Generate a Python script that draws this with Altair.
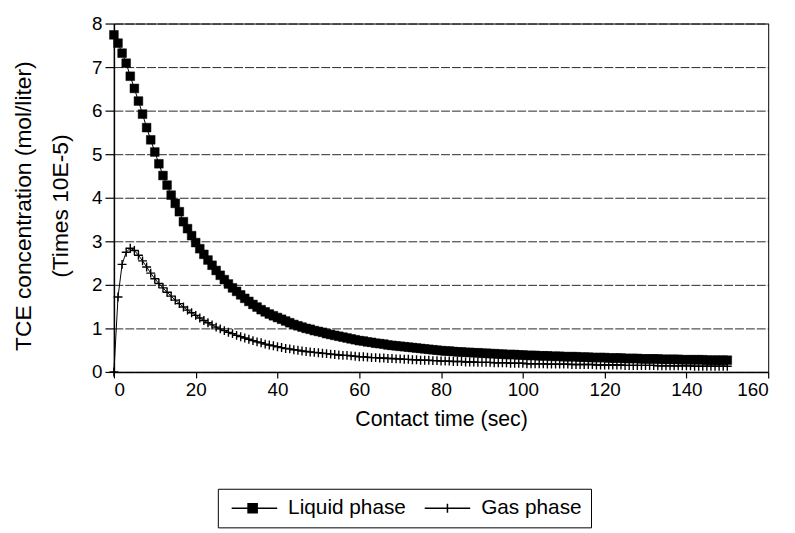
import altair as alt
import pandas as pd

FONT = "Liberation Sans"

# Contact time (sec), one reading per second
time_s = list(range(0, 151))

liquid_phase = [
    7.74, 7.55, 7.32, 7.09, 6.79, 6.51, 6.22, 5.92, 5.61, 5.33,
    5.05, 4.78, 4.51, 4.29, 4.06, 3.87, 3.68, 3.45, 3.29, 3.13,
    2.97, 2.83, 2.70, 2.57, 2.45, 2.33, 2.22, 2.12, 2.02, 1.93,
    1.85, 1.77, 1.69, 1.62, 1.55, 1.49, 1.43, 1.38, 1.33, 1.29,
    1.25, 1.21, 1.17, 1.13, 1.09, 1.06, 1.03, 1.00, 0.98, 0.95,
    0.93, 0.91, 0.88, 0.86, 0.84, 0.82, 0.80, 0.78, 0.76, 0.74,
    0.72, 0.71, 0.69, 0.68, 0.66, 0.65, 0.64, 0.62, 0.61, 0.60,
    0.59, 0.58, 0.57, 0.56, 0.55, 0.54, 0.53, 0.52, 0.51, 0.50,
    0.49, 0.48, 0.48, 0.47, 0.46, 0.46, 0.45, 0.45, 0.44, 0.44,
    0.43, 0.43, 0.42, 0.42, 0.41, 0.41, 0.40, 0.40, 0.40, 0.39,
    0.39, 0.38, 0.38, 0.38, 0.37, 0.37, 0.37, 0.36, 0.36, 0.36,
    0.35, 0.35, 0.35, 0.35, 0.34, 0.34, 0.34, 0.33, 0.33, 0.33,
    0.33, 0.32, 0.32, 0.32, 0.32, 0.31, 0.31, 0.31, 0.31, 0.30,
    0.30, 0.30, 0.30, 0.30, 0.29, 0.29, 0.29, 0.29, 0.29, 0.28,
    0.28, 0.28, 0.28, 0.28, 0.28, 0.27, 0.27, 0.27, 0.27, 0.27, 0.27,
]

gas_phase = [
    0.00, 1.72, 2.47, 2.75, 2.84, 2.79, 2.68, 2.55, 2.41, 2.27,
    2.14, 2.03, 1.93, 1.83, 1.74, 1.65, 1.57, 1.49, 1.42, 1.36,
    1.30, 1.24, 1.18, 1.13, 1.08, 1.03, 0.99, 0.95, 0.91, 0.88,
    0.84, 0.81, 0.78, 0.75, 0.72, 0.69, 0.67, 0.64, 0.62, 0.60,
    0.58, 0.56, 0.54, 0.53, 0.51, 0.50, 0.48, 0.47, 0.46, 0.45,
    0.44, 0.43, 0.42, 0.41, 0.40, 0.39, 0.38, 0.38, 0.37, 0.36,
    0.35, 0.35, 0.34, 0.33, 0.33, 0.32, 0.32, 0.31, 0.31, 0.30,
    0.30, 0.29, 0.29, 0.28, 0.28, 0.27, 0.27, 0.27, 0.26, 0.26,
    0.25, 0.25, 0.25, 0.24, 0.24, 0.24, 0.23, 0.23, 0.23, 0.22,
    0.22, 0.22, 0.22, 0.21, 0.21, 0.21, 0.21, 0.20, 0.20, 0.20,
    0.20, 0.19, 0.19, 0.19, 0.19, 0.19, 0.18, 0.18, 0.18, 0.18,
    0.18, 0.18, 0.17, 0.17, 0.17, 0.17, 0.17, 0.17, 0.16, 0.16,
    0.16, 0.16, 0.16, 0.16, 0.16, 0.15, 0.15, 0.15, 0.15, 0.15,
    0.15, 0.15, 0.15, 0.14, 0.14, 0.14, 0.14, 0.14, 0.14, 0.14,
    0.14, 0.14, 0.13, 0.13, 0.13, 0.13, 0.13, 0.13, 0.13, 0.13, 0.13,
]

series_names = ["Liquid phase", "Gas phase"]
x_ticks = [0, 20, 40, 60, 80, 100, 120, 140, 160]
y_ticks = [0, 1, 2, 3, 4, 5, 6, 7, 8]

df = pd.concat([
    pd.DataFrame({"t": time_s, "value": liquid_phase, "series": series_names[0]}),
    pd.DataFrame({"t": time_s, "value": gas_phase, "series": series_names[1]}),
], ignore_index=True)

x_enc = alt.X(
    "t:Q",
    scale=alt.Scale(domain=[0, 160], nice=False),
    axis=alt.Axis(
        values=x_ticks, title="Contact time (sec)", grid=False,
        tickSize=6, labelPadding=3, labelFontSize=19, titleFontSize=21.5,
        titleFontWeight="normal", titleY=54, titleBaseline="alphabetic",
        domainColor="black", tickColor="black", labelColor="black",
        titleColor="black", domainWidth=1.5, tickWidth=1.2,
        labelFont=FONT, titleFont=FONT,
    ),
)
y_enc = alt.Y(
    "value:Q",
    scale=alt.Scale(domain=[0, 8], nice=False),
    axis=alt.Axis(
        values=y_ticks,
        title=["TCE concentration (mol/liter)", "(Times 10E-5)"],
        grid=True, gridColor="black", gridDash=[9, 2], gridWidth=1,
        gridOpacity=0.85,
        tickSize=9, labelPadding=3, labelFontSize=19, titleFontSize=23,
        titleFontWeight="normal", titleLineHeight=37,
        titleX=-84, titleY=184, titleBaseline="alphabetic", titleAlign="center",
        domainColor="black", tickColor="black", labelColor="black",
        titleColor="black", domainWidth=1.5, tickWidth=1.2,
        labelFont=FONT, titleFont=FONT,
    ),
)

base = alt.Chart(df)

lines = base.mark_line(color="black", strokeWidth=1).encode(
    x=x_enc, y=y_enc, detail="series:N"
)

liquid_pts = base.transform_filter(
    alt.datum.series == series_names[0]
).mark_point(
    shape="square", size=78, filled=True, fill="black", stroke="black",
    strokeWidth=0.5, opacity=1
).encode(x="t:Q", y="value:Q")

gas_pts = base.transform_filter(
    alt.datum.series == series_names[1]
).mark_point(
    shape="M-1,0H1M0,-1V1", size=81, filled=False, stroke="black",
    strokeWidth=1.4, opacity=1
).encode(x="t:Q", y="value:Q")

legend_cfg = alt.Legend(
    orient="none", legendX=105, legendY=470, direction="horizontal",
    title=None, labelFont=FONT, labelFontSize=21, labelColor="black",
    symbolSize=338, symbolStrokeWidth=1.5, symbolFillColor="black",
    symbolStrokeColor="black", labelOffset=41, columnPadding=13,
    padding=9, strokeColor="black", fillColor="white", labelLimit=400,
)

legend_layer = base.transform_filter("datum.t < 0").mark_point(
    filled=False, fill="black", strokeWidth=1.5, opacity=1
).encode(
    x="t:Q", y="value:Q",
    color=alt.Color(
        "series:N",
        scale=alt.Scale(domain=series_names, range=["black", "black"]),
        legend=legend_cfg,
    ),
    shape=alt.Shape(
        "series:N",
        scale=alt.Scale(
            domain=series_names,
            range=[
                "M-0.6,0H4.4M1.2,-0.5H2.2V0.5H1.2Z",
                "M-0.6,0H4.4M1.9,-0.5V0.5",
            ],
        ),
        legend=legend_cfg,
    ),
)

chart = alt.layer(lines, liquid_pts, gas_pts, legend_layer).properties(
    width=661, height=352,
    autosize=alt.AutoSizeParams(type="none"),
    padding={"left": 107, "top": 13, "right": 19, "bottom": 160},
).configure_view(stroke="black", strokeWidth=1)

chart.save("out.html", embed_options={"renderer": "svg", "actions": False})
